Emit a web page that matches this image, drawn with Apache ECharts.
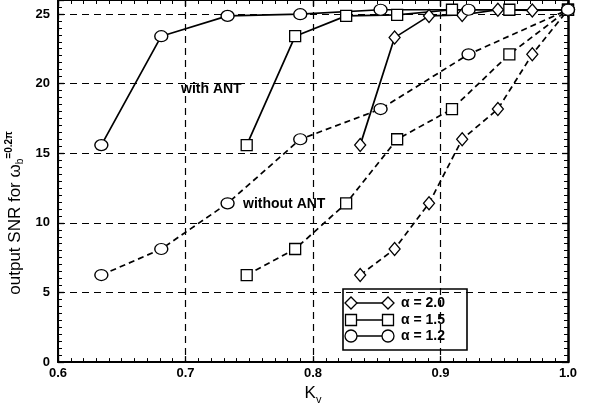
<!DOCTYPE html>
<html>
<head>
<meta charset="utf-8">
<script src="https://cdn.jsdelivr.net/npm/echarts@6/dist/echarts.min.js"></script>
<style>html,body{margin:0;padding:0;background:#fff;}#c{width:602px;height:410px;}</style>
</head>
<body>
<div id="c"></div>
<script>
// Kv values for each alpha
var kv20 = [0.837, 0.864, 0.891, 0.917, 0.945, 0.972, 1.0];
var kv15 = [0.748, 0.786, 0.826, 0.866, 0.909, 0.954, 1.0];
var kv12 = [0.634, 0.681, 0.733, 0.790, 0.853, 0.922, 1.0];
// output SNR with ANT
var antSnr20 = [15.58, 23.3, 24.86, 24.93, 25.3, 25.25, 25.3];
var antSnr15 = [15.58, 23.4, 24.86, 24.93, 25.3, 25.3, 25.3];
var antSnr12 = [15.58, 23.4, 24.86, 24.98, 25.3, 25.3, 25.3];
// output SNR without ANT
var noSnr20 = [6.25, 8.12, 11.4, 16.0, 18.17, 22.1, 25.3];
var noSnr15 = [6.25, 8.12, 11.4, 16.0, 18.17, 22.1, 25.3];
var noSnr12 = [6.25, 8.12, 11.4, 16.0, 18.17, 22.1, 25.3];
var legendLabels = ['\u03b1 = 2.0', '\u03b1 = 1.5', '\u03b1 = 1.2'];

function pairs(xs, ys) { return xs.map(function (x, i) { return [x, ys[i]]; }); }

var FONT = 'Liberation Sans, Arial, sans-serif';
var chart = echarts.init(document.getElementById('c'), null, {renderer: 'canvas'});

function mkSeries(name, xs, ys, symbol, size, dashed) {
  return {
    name: name, type: 'line', data: pairs(xs, ys),
    symbol: symbol, symbolSize: size, showSymbol: true,
    lineStyle: {color: '#000', width: 1.7, type: dashed ? [6, 4] : 'solid'},
    itemStyle: {color: '#fff', borderColor: '#000', borderWidth: 1.3},
    z: 5, animation: false
  };
}

var axisCommonY = {
  type: 'value', min: 0, max: 26, interval: 5,
  axisLine: {show: true, lineStyle: {color: '#000', width: 2}},
  axisTick: {show: true, inside: true, length: 6, lineStyle: {color: '#000', width: 1.3}},
  minorTick: {show: true, splitNumber: 10, length: 4, lineStyle: {color: '#000', width: 1}}
};
var axisCommonX = {
  type: 'value', min: 0.6, max: 1.0, interval: 0.1,
  axisLine: {show: true, onZero: false, lineStyle: {color: '#000', width: 2}},
  axisTick: {show: true, inside: true, length: 6, lineStyle: {color: '#000', width: 1.3}},
  minorTick: {show: true, splitNumber: 10, length: 4, lineStyle: {color: '#000', width: 1}}
};

var option = {
  backgroundColor: '#fff',
  animation: false,
  grid: {left: 58, right: 34, top: 0, bottom: 42, containLabel: false},
  xAxis: [
    Object.assign({}, axisCommonX, {
      position: 'bottom',
      name: '{k|K}{v|v}', nameLocation: 'middle', nameGap: 20,
      nameTextStyle: {rich: {k: {fontFamily: FONT, fontSize: 17, color: '#000', verticalAlign: 'top', lineHeight: 20}, v: {fontFamily: FONT, fontSize: 11, color: '#000', verticalAlign: 'bottom', lineHeight: 12, padding: [8, 0, 0, 0]}}},
      axisLabel: {show: true, color: '#000', fontFamily: FONT, fontWeight: 'bold', fontSize: 13, margin: 5,
        formatter: function (v) { return v.toFixed(1); }},
      splitLine: {show: true, lineStyle: {color: '#000', width: 1.2, type: [7, 5]}}
    }),
    Object.assign({}, axisCommonX, {
      position: 'top', axisLabel: {show: false}, splitLine: {show: false}
    })
  ],
  yAxis: [
    Object.assign({}, axisCommonY, {
      position: 'left',
      axisLabel: {show: true, color: '#000', fontFamily: FONT, fontWeight: 'bold', fontSize: 13, margin: 8,
        formatter: function (v) { return v % 5 === 0 ? String(v) : ''; }},
      splitLine: {show: true, lineStyle: {color: '#000', width: 1.2, type: [7, 5]}}
    }),
    Object.assign({}, axisCommonY, {
      position: 'right', axisLabel: {show: false}, splitLine: {show: false},
      axisLine: {show: true, lineStyle: {color: '#000', width: 2.5}}
    })
  ],
  series: [
    mkSeries(legendLabels[0], kv20, noSnr20, 'diamond', [11, 13], true),
    mkSeries(legendLabels[1], kv15, noSnr15, 'rect', [11, 11], true),
    mkSeries(legendLabels[2], kv12, noSnr12, 'circle', [13, 11], true),
    mkSeries(legendLabels[0], kv20, antSnr20, 'diamond', [11, 13], false),
    mkSeries(legendLabels[1], kv15, antSnr15, 'rect', [11, 11], false),
    mkSeries(legendLabels[2], kv12, antSnr12, 'circle', [13, 11], false)
  ],
  graphic: []
};

// Annotations
option.graphic.push({type: 'text', left: 181, top: 82, z: 10,
  style: {text: 'with ANT', font: 'bold 14px ' + FONT, fill: '#000'}});
option.graphic.push({type: 'text', left: 243, top: 197, z: 10,
  style: {text: 'without ANT', font: 'bold 14px ' + FONT, fill: '#000'}});

// Y axis title (rotated, with sub/superscript)
option.graphic.push({type: 'text', x: 15, y: 213, rotation: Math.PI / 2, z: 10,
  style: {
    text: '{m|output SNR for \u03c9}{s|b}{p|=0.2\u03c0}',
    align: 'center', verticalAlign: 'middle',
    rich: {
      m: {fontFamily: FONT, fontSize: 17, color: '#000', lineHeight: 21, verticalAlign: 'middle'},
      s: {fontFamily: FONT, fontSize: 10, color: '#000', lineHeight: 21, verticalAlign: 'bottom'},
      p: {fontFamily: FONT, fontSize: 10, fontWeight: 'bold', color: '#000', lineHeight: 21, verticalAlign: 'top'}
    }
  }});

// Legend box
var lg = {x: 343, y: 289, w: 124, h: 61};
var legendChildren = [
  {type: 'rect', shape: {x: lg.x, y: lg.y, width: lg.w, height: lg.h},
    style: {fill: '#fff', stroke: '#000', lineWidth: 1.6}}
];
var rowsY = [303, 320, 336];
var syms = ['diamond', 'rect', 'circle'];
for (var i = 0; i < 3; i++) {
  var yy = rowsY[i];
  var x1 = 351, x2 = 388;
  legendChildren.push({type: 'line', shape: {x1: x1, y1: yy, x2: x2, y2: yy}, style: {stroke: '#000', lineWidth: 1.6}});
  [x1, x2].forEach(function (cx) {
    if (syms[i] === 'diamond') {
      legendChildren.push({type: 'polygon', shape: {points: [[cx - 6, yy], [cx, yy - 6], [cx + 6, yy], [cx, yy + 6]]},
        style: {fill: '#fff', stroke: '#000', lineWidth: 1.3}});
    } else if (syms[i] === 'rect') {
      legendChildren.push({type: 'rect', shape: {x: cx - 5.5, y: yy - 5.5, width: 11, height: 11},
        style: {fill: '#fff', stroke: '#000', lineWidth: 1.3}});
    } else {
      legendChildren.push({type: 'circle', shape: {cx: cx, cy: yy, r: 6},
        style: {fill: '#fff', stroke: '#000', lineWidth: 1.3}});
    }
  });
  legendChildren.push({type: 'text', x: 401, y: yy, style: {text: legendLabels[i], font: 'bold 14px ' + FONT, fill: '#000', verticalAlign: 'middle'}});
}
option.graphic.push({type: 'group', z: 20, children: legendChildren});

chart.setOption(option);
</script>
</body>
</html>
